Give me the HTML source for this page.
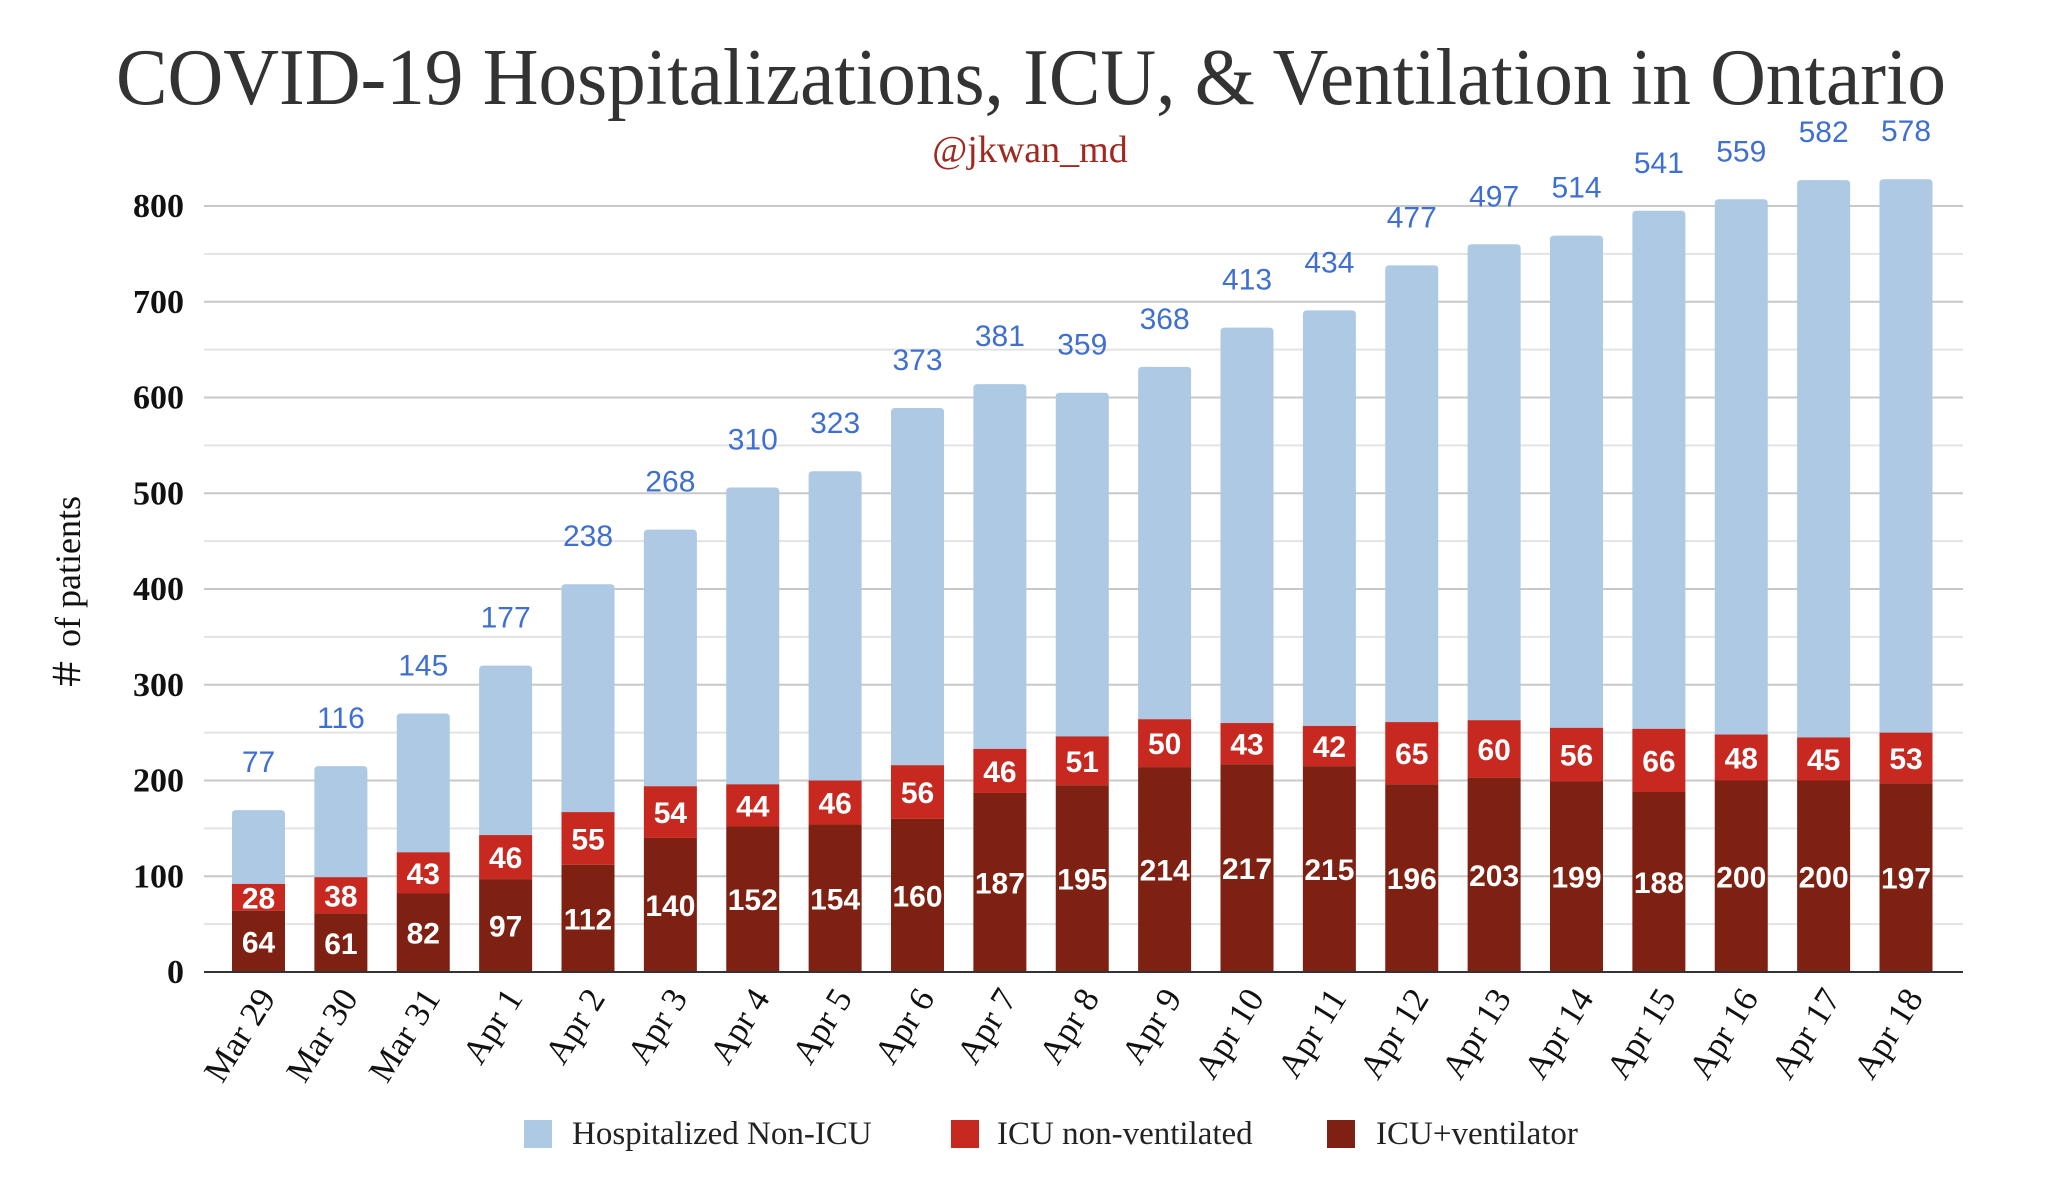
<!DOCTYPE html>
<html><head><meta charset="utf-8"><style>
html,body{margin:0;padding:0;background:#fff;}
svg{display:block;}
</style></head><body>
<svg id="chart" width="2048" height="1179" viewBox="0 0 2048 1179" xmlns="http://www.w3.org/2000/svg">
<text x="1031" y="104" text-anchor="middle" font-family="Liberation Serif, serif" font-size="80" fill="#333" textLength="1830" lengthAdjust="spacingAndGlyphs">COVID-19 Hospitalizations, ICU, &amp; Ventilation in Ontario</text>
<text x="1030" y="162" text-anchor="middle" font-family="Liberation Serif, serif" font-size="38" fill="#a0281e">@jkwan_md</text>
<text transform="translate(80,594) rotate(-90)" text-anchor="middle" font-family="Liberation Serif, serif" font-size="36" fill="#111">＃ of patients</text>
<g id="grid"></g><g id="bars"></g><g id="labels"></g><g id="xlabels"></g>
<g>
<rect x="524" y="1120" width="28" height="28" fill="#aec9e3"/>
<text x="572" y="1144" font-family="Liberation Serif, serif" font-size="33" fill="#222">Hospitalized Non-ICU</text>
<rect x="951" y="1120" width="28" height="28" fill="#c7281f"/>
<text x="997" y="1144" font-family="Liberation Serif, serif" font-size="33" fill="#222">ICU non-ventilated</text>
<rect x="1327" y="1120" width="28" height="28" fill="#7f2112"/>
<text x="1376" y="1144" font-family="Liberation Serif, serif" font-size="33" fill="#222">ICU+ventilator</text>
</g>
</svg>
<script>
const categories=["Mar 29","Mar 30","Mar 31","Apr 1","Apr 2","Apr 3","Apr 4","Apr 5","Apr 6","Apr 7","Apr 8","Apr 9","Apr 10","Apr 11","Apr 12","Apr 13","Apr 14","Apr 15","Apr 16","Apr 17","Apr 18"];
const ventilated=[64,61,82,97,112,140,152,154,160,187,195,214,217,215,196,203,199,188,200,200,197];
const icuNonVent=[28,38,43,46,55,54,44,46,56,46,51,50,43,42,65,60,56,66,48,45,53];
const nonIcu=[77,116,145,177,238,268,310,323,373,381,359,368,413,434,477,497,514,541,559,582,578];
const yTicks=[0,100,200,300,400,500,600,700,800];

const NS="http://www.w3.org/2000/svg";
const X0=204,X1=1963,Y0=972,Y800=206;
const yScale=v=>Y0-(v/800)*(Y0-Y800);
const firstC=258.5,step=(1906-258.5)/(categories.length-1);
const xCenter=i=>firstC+i*step;
const BW=53;
function mk(tag,attrs,parent){const e=document.createElementNS(NS,tag);for(const k in attrs)e.setAttribute(k,attrs[k]);parent.appendChild(e);return e;}
const grid=document.getElementById('grid'),bars=document.getElementById('bars'),labels=document.getElementById('labels'),xl=document.getElementById('xlabels');
for(let v=50;v<=800;v+=100){const l=mk('line',{x1:X0,x2:X1,y1:yScale(v),y2:yScale(v),stroke:'#e3e3e3','stroke-width':2},grid);

}
yTicks.forEach(v=>{
 if(v>0){const l=mk('line',{x1:X0,x2:X1,y1:yScale(v),y2:yScale(v),stroke:'#c8c8c8','stroke-width':2},grid);
 
 }
 const t=mk('text',{x:184,y:yScale(v)+11,'text-anchor':'end','font-family':'Liberation Serif, serif','font-size':34,'font-weight':'bold',fill:'#111'},grid);
 t.textContent=v;
 
 
});
categories.forEach((c,i)=>{
 const cx=xCenter(i),x=cx-BW/2;
 const v=ventilated[i],u=icuNonVent[i],n=nonIcu[i];
 const yv=yScale(v),yu=yScale(v+u),yn=yScale(v+u+n);
 const r1=mk('path',{d:`M${x},${yu} L${x},${yn+4} Q${x},${yn} ${x+4},${yn} L${x+BW-4},${yn} Q${x+BW},${yn} ${x+BW},${yn+4} L${x+BW},${yu} Z`,fill:'#aec9e3'},bars);
 
 
 const r2=mk('rect',{x:x,y:yu,width:BW,height:yv-yu,fill:'#c7281f'},bars);
 
 
 const r3=mk('rect',{x:x,y:yv,width:BW,height:Y0-yv,fill:'#7f2112'},bars);
 
 
 const t1=mk('text',{x:cx,y:yn-38,'text-anchor':'middle','font-family':'Liberation Sans, sans-serif','font-size':30,fill:'#3f6fd1'},labels);
 t1.textContent=n;
 
 
 const t2=mk('text',{x:cx,y:(yu+yv)/2+11,'text-anchor':'middle','font-family':'Liberation Sans, sans-serif','font-size':30,'font-weight':'bold',fill:'#fff'},labels);
 t2.textContent=u;
 
 
 const t3=mk('text',{x:cx,y:(yv+Y0)/2+11,'text-anchor':'middle','font-family':'Liberation Sans, sans-serif','font-size':30,'font-weight':'bold',fill:'#fff'},labels);
 t3.textContent=v;
 
 
 const xt=mk('text',{transform:`translate(${cx+18},${Y0+26}) rotate(-58)`,'text-anchor':'end','font-family':'Liberation Serif, serif','font-size':35,fill:'#111'},xl);
 xt.textContent=c;
 
 
});
const ax=mk('line',{x1:X0,x2:X1,y1:Y0,y2:Y0,stroke:'#333','stroke-width':2},bars);


</script>
</body></html>
